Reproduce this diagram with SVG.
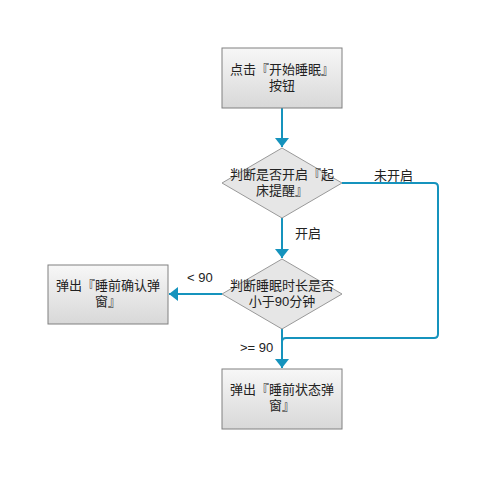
<svg xmlns="http://www.w3.org/2000/svg" width="504" height="492" viewBox="0 0 504 492">
<style>
.box{fill:url(#g);stroke:#808080;stroke-width:1}
.dia{fill:#e6e6e6;stroke:#999999;stroke-width:1}
.t{font-family:"Liberation Sans","Noto Sans CJK SC",sans-serif;font-size:13px;fill:#222;text-anchor:middle}
.l{font-family:"Liberation Sans","Noto Sans CJK SC",sans-serif;font-size:13px;fill:#222}
.c{fill:none;stroke:#1593bd;stroke-width:2}
</style>
<defs>
<linearGradient id="g" x1="0" y1="0" x2="0" y2="1">
<stop offset="0" stop-color="#f7f7f7"/>
<stop offset="1" stop-color="#d8d8d8"/>
</linearGradient>
<marker id="a" viewBox="0 0 9 14" refX="9" refY="7" markerWidth="4.5" markerHeight="7" orient="auto" markerUnits="strokeWidth">
<path d="M0,0 L9,7 L0,14 z" fill="#1593bd"/>
</marker>
</defs>
<rect width="504" height="492" fill="#ffffff"/>
<g id="connectors">
<path class="c" d="M282,108 V147" marker-end="url(#a)"/>
<path class="c" d="M282,218 V258" marker-end="url(#a)"/>
<path class="c" d="M222,294 H169" marker-end="url(#a)"/>
<path class="c" d="M282,328 V368" marker-end="url(#a)"/>
<path class="c" d="M342,183 H434 Q438,183 438,187 V334 Q438,338 434,338 H286 Q282,338 282,342"/>
<text class="l" x="374" y="180">未开启</text>
<text class="l" x="295" y="238">开启</text>
<text class="l" x="187" y="282">&lt; 90</text>
<text class="l" x="240" y="352">&gt;= 90</text>
</g>
<g id="n1">
<rect class="box" x="222" y="48" width="120" height="60"/>
<text class="t" x="282" y="74">点击『开始睡眠』</text>
<text class="t" x="282" y="90">按钮</text>
</g>
<g id="n2">
<polygon class="dia" points="282,148 342,183 282,218 222,183"/>
<text class="t" x="282" y="179">判断是否开启『起</text>
<text class="t" x="282" y="195">床提醒』</text>
</g>
<g id="n3">
<polygon class="dia" points="282,259 342,294 282,329 222,294"/>
<text class="t" x="282" y="290">判断睡眠时长是否</text>
<text class="t" x="282" y="306">小于90分钟</text>
</g>
<g id="n4">
<rect class="box" x="48" y="265" width="120" height="59"/>
<text class="t" x="108" y="290">弹出『睡前确认弹</text>
<text class="t" x="108" y="306">窗』</text>
</g>
<g id="n5">
<rect class="box" x="222" y="369" width="120" height="60"/>
<text class="t" x="282" y="394">弹出『睡前状态弹</text>
<text class="t" x="282" y="410">窗』</text>
</g>
</svg>
